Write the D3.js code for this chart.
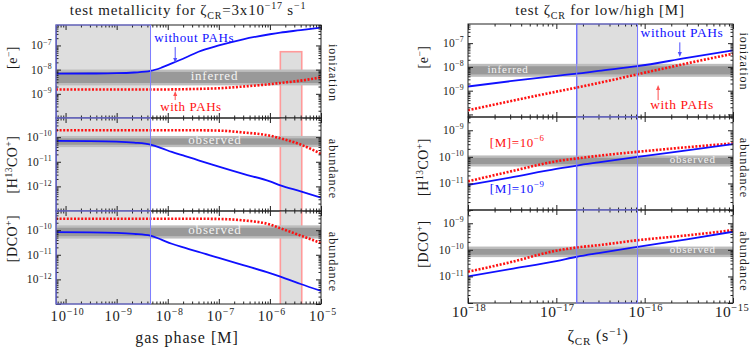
<!DOCTYPE html>
<meta charset="utf-8">
<style>
body { margin: 0; background: #fff; }
svg text { font-family: "Liberation Serif", "DejaVu Serif", serif; fill: #1a1a1a; }
</style>
<svg id="chart" width="751" height="349"></svg>
<script src="https://cdn.jsdelivr.net/npm/d3@7/dist/d3.min.js"></script>
<script>

// ---- left: test metallicity, x = gas phase [M] ----
var gasPhase   = [6.5e-11, 3e-10, 1e-9, 2.2e-9, 4.6e-9, 7.5e-9, 1.2e-8, 2.2e-8, 4e-8, 1e-7, 3e-7, 1e-6, 1.6e-6, 4e-6, 1e-5];
var elecNoPah  = [6.8e-9, 6.9e-9, 7.1e-9, 7.6e-9, 8.8e-9, 1.2e-8, 1.8e-8, 3.1e-8, 5.5e-8, 1.0e-7, 1.8e-7, 2.9e-7, 3.4e-7, 4.3e-7, 5.5e-7];
var elecPah    = [1.5e-9, 1.5e-9, 1.5e-9, 1.5e-9, 1.5e-9, 1.51e-9, 1.52e-9, 1.55e-9, 1.6e-9, 1.7e-9, 2.0e-9, 2.5e-9, 2.8e-9, 3.5e-9, 4.8e-9];
var hcoNoPah   = [7e-11, 6.9e-11, 6.6e-11, 6e-11, 5e-11, 3.6e-11, 2.5e-11, 1.7e-11, 1.15e-11, 6.3e-12, 3.2e-12, 1.6e-12, 1.1e-12, 6.3e-13, 3.5e-13];
var hcoPah     = [1.9e-10, 1.9e-10, 1.9e-10, 1.9e-10, 1.9e-10, 1.9e-10, 1.9e-10, 1.9e-10, 1.9e-10, 1.85e-10, 1.55e-10, 1.15e-10, 9e-11, 5e-11, 2.1e-11];
var dcoNoPah   = [8.3e-11, 8.2e-11, 7.8e-11, 7.1e-11, 6e-11, 4.1e-11, 2.8e-11, 1.9e-11, 1.3e-11, 7.5e-12, 3.8e-12, 1.8e-12, 1.3e-12, 6.5e-13, 3.4e-13];
var dcoPah     = [2.9e-10, 2.9e-10, 2.9e-10, 2.9e-10, 2.9e-10, 2.9e-10, 2.9e-10, 2.9e-10, 2.9e-10, 2.85e-10, 2.5e-10, 1.7e-10, 1.2e-10, 6e-11, 3e-11];

// ---- right: test zeta_CR for low/high [M] ----
var zetaCR     = [1e-18, 3e-18, 1e-17, 1.7e-17, 3e-17, 8.3e-17, 3e-16, 1e-15];
var elecNoPahZ = [1.5e-9, 2.5e-9, 4.2e-9, 5.2e-9, 6.8e-9, 1.07e-8, 2.4e-8, 5e-8];
var elecPahZ   = [1.5e-10, 3.6e-10, 9.1e-10, 1.35e-9, 2.1e-9, 4.9e-9, 1.4e-8, 3.6e-8];
var hcoLowM    = [8.7e-12, 1.66e-11, 3.5e-11, 4.7e-11, 6.2e-11, 1e-10, 1.75e-10, 3e-10];
var hcoHighM   = [1.2e-11, 2.8e-11, 6.8e-11, 8.7e-11, 1.1e-10, 1.55e-10, 2.3e-10, 3.2e-10];
var dcoLowM    = [1e-11, 1.9e-11, 3.8e-11, 5.5e-11, 7.6e-11, 1.3e-10, 2.5e-10, 4.8e-10];
var dcoHighM   = [1.5e-11, 3.4e-11, 9.3e-11, 1.23e-10, 1.5e-10, 2.3e-10, 3.5e-10, 5.5e-10];

// observed / inferred ranges
var elecInferredL = [2.5e-9, 9e-9];
var hcoObservedL  = [4.4e-11, 1e-10];
var dcoObservedL  = [5.1e-11, 1.4e-10];
var elecInferredR = [4.3e-9, 1.2e-8];
var hcoObservedR  = [4.8e-11, 1.02e-10];
var dcoObservedR  = [5.9e-11, 1.2e-10];

// shaded ranges
var lowMetalRange = [6.5e-11, 4.6e-9];
var metalBox      = [1.6e-6, 4.2e-6];
var metalBoxTop   = 5.5e-8;
var zetaRange     = [1.7e-17, 8.3e-17];

// axes
var gasDomain   = [6.5e-11, 1e-5];
var zetaDomain  = [1e-18, 1e-15];
var gasTickExp  = [-10, -9, -8, -7, -6, -5];
var zetaTickExp = [-18, -17, -16, -15];
var yDomainsL = [[1e-10, 7e-7], [1e-13, 6e-10], [1e-13, 6e-10]];
var yDomainsR = [[7.8e-11, 6.4e-7], [1e-12, 3.16e-9], [1e-12, 3.16e-9]];
var yTickExpL = [[-9, -8, -7], [-12, -11, -10], [-12, -11, -10]];
var yTickExpR = [[-9, -8, -7], [-11, -10, -9], [-11, -10, -9]];

var BLUE = "#1010ff", RED = "#ff1010", INK = "#222";
var svg = d3.select("#chart");

function logTicks(lo, hi) {
  var major = [], minor = [];
  for (var e = Math.floor(Math.log10(lo)) - 1; e <= Math.ceil(Math.log10(hi)); e++) {
    var p = Math.pow(10, e);
    if (p >= lo * 0.999 && p <= hi * 1.001) major.push(p);
    for (var m = 2; m < 10; m++) {
      if (m * p >= lo && m * p <= hi) minor.push(m * p);
    }
  }
  return {major: major, minor: minor};
}

function power(sel, exp, size, lift) {
  sel.append("tspan").text("10");
  sel.append("tspan").attr("dy", -(lift || 0.42) * size).attr("font-size", size * 0.68).text("\u2212" + Math.abs(exp));
}

function inwardTicks(g, x, y, x0, x1, top, bottom) {
  var xt = logTicks(x.domain()[0], x.domain()[1]),
      yt = logTicks(y.domain()[0], y.domain()[1]);
  [[xt.major, 5], [xt.minor, 2.5]].forEach(function(t) {
    g.append("g").attr("transform", "translate(0," + bottom + ")")
      .call(d3.axisBottom(x).tickValues(t[0]).tickSize(-t[1]).tickFormat(""));
    g.append("g").attr("transform", "translate(0," + top + ")")
      .call(d3.axisTop(x).tickValues(t[0]).tickSize(-t[1]).tickFormat(""));
  });
  [[yt.major, 5], [yt.minor, 2.5]].forEach(function(t) {
    g.append("g").attr("transform", "translate(" + x0 + ",0)")
      .call(d3.axisLeft(y).tickValues(t[0]).tickSize(-t[1]).tickFormat(""));
    g.append("g").attr("transform", "translate(" + x1 + ",0)")
      .call(d3.axisRight(y).tickValues(t[0]).tickSize(-t[1]).tickFormat(""));
  });
  g.selectAll(".domain").remove();
  g.selectAll(".tick line").attr("stroke", INK);
}

function drawPanel(p) {
  var g = svg.append("g");
  var x = p.x;
  var y = d3.scaleLog().domain(p.yDomain).range([p.bottom, p.top]);
  var id = "clip" + p.key;
  g.append("clipPath").attr("id", id).append("rect")
    .attr("x", p.x0).attr("y", p.top).attr("width", p.x1 - p.x0).attr("height", p.bottom - p.top);
  var body = g.append("g").attr("clip-path", "url(#" + id + ")");

  // shaded ranges
  (p.shades || []).forEach(function(s) {
    var ytop = s.top ? y(s.top) : p.top - 2;
    body.append("rect")
      .attr("x", x(s.range[0])).attr("y", ytop)
      .attr("width", x(s.range[1]) - x(s.range[0]))
      .attr("height", p.bottom + 2 - ytop)
      .attr("fill", "#dedede")
      .attr("stroke", s.stroke).attr("stroke-width", s.width);
  });

  // observed band
  body.append("rect")
    .attr("x", p.x0 - 2).attr("y", y(p.band[1]))
    .attr("width", p.x1 - p.x0 + 4).attr("height", y(p.band[0]) - y(p.band[1]))
    .attr("fill", "#999").attr("stroke", "#bdbdbd").attr("stroke-width", 2.4);

  var line = d3.line().curve(d3.curveMonotoneX)
    .x(function(d) { return x(d[0]); })
    .y(function(d) { return y(d[1]); });

  body.append("path").datum(d3.zip(p.xs, p.red))
    .attr("d", line).attr("fill", "none")
    .attr("stroke", RED).attr("stroke-width", 2.6).attr("stroke-dasharray", "2,1.6");
  body.append("path").datum(d3.zip(p.xs, p.blue))
    .attr("d", line).attr("fill", "none")
    .attr("stroke", BLUE).attr("stroke-width", 1.8);

  inwardTicks(g, x, y, p.x0, p.x1, p.top, p.bottom);
  g.append("rect")
    .attr("x", p.x0).attr("y", p.top).attr("width", p.x1 - p.x0).attr("height", p.bottom - p.top)
    .attr("fill", "none").attr("stroke", INK).attr("stroke-width", 1);

  // blue edges of the shaded range sit on top of the frame
  (p.shades || []).forEach(function(s) {
    if (s.stroke !== BLUE) return;
    g.append("rect")
      .attr("x", x(s.range[0])).attr("y", p.top)
      .attr("width", x(s.range[1]) - x(s.range[0])).attr("height", p.bottom - p.top)
      .attr("fill", "none").attr("stroke", "#7f7fff").attr("stroke-width", 1);
  });

  // y tick labels
  p.yTicks.forEach(function(e) {
    g.append("text")
      .attr("x", p.x0 - 4).attr("y", y(Math.pow(10, e)) + 4)
      .attr("text-anchor", "end").attr("font-size", p.tickFont).attr("letter-spacing", 0.3)
      .call(power, e, p.tickFont);
  });

  // band label
  g.append("text")
    .attr("x", x(p.bandText[0])).attr("y", y(p.bandText[1]))
    .attr("text-anchor", "middle").attr("font-size", p.bandFont).attr("letter-spacing", 0.8)
    .style("fill", "#f4f4f4")
    .text(p.bandText[2]);

  // species label on left, process label on right
  g.append("text")
    .attr("transform", "translate(" + p.ylabX + "," + ((p.top + p.bottom) / 2 + p.ylabDy) + ") rotate(-90)")
    .attr("text-anchor", "middle").attr("font-size", 14).attr("letter-spacing", 0.5)
    .call(p.ylab);
  g.append("text")
    .attr("transform", "translate(" + p.sideX + "," + ((p.top + p.bottom) / 2 + p.sideDy) + ") rotate(90)")
    .attr("text-anchor", "middle").attr("font-size", 12).attr("letter-spacing", 1)
    .text(p.side);

  p.y = y;
  return p;
}

function bracket(inner) {
  return function(t) {
    t.append("tspan").text("[");
    inner.forEach(function(s) {
      if (s.sup) t.append("tspan").attr("dy", -5).attr("font-size", 9.5).text(s.sup);
      else t.append("tspan").attr("dy", s.back ? 5 : 0).text(s.t);
    });
    t.append("tspan").attr("dy", 5).text("]");
  };
}
var labE   = bracket([{t: "e"}, {sup: "\u2212"}]);
var labHCO = bracket([{t: "H"}, {sup: "13"}, {t: "CO", back: true}, {sup: "+"}]);
var labDCO = bracket([{t: "DCO"}, {sup: "+"}]);

// ---------- left block ----------
var xL = d3.scaleLog().domain(gasDomain).range([56, 321]);
var topsL = [25, 118, 211, 304];
var seriesL = [[elecPah, elecNoPah], [hcoPah, hcoNoPah], [dcoPah, dcoNoPah]];
var bandsL = [elecInferredL, hcoObservedL, dcoObservedL];
var bandTextL = [[8.2e-8, 3.6e-9, "inferred"], [8.4e-8, 5.5e-11, "observed"], [8.4e-8, 7.1e-11, "observed"]];
var ylabsL = [labE, labHCO, labDCO], ylabDyL = [-14, 0, -19];
var sideL = ["ionization", "abundance", "abundance"], sideDyL = [1.5, 4.5, 4.5];

var panelsL = [0, 1, 2].map(function(i) {
  return drawPanel({
    key: "L" + i, x: xL, x0: 56, x1: 321, top: topsL[i], bottom: topsL[i + 1],
    yDomain: yDomainsL[i], yTicks: yTickExpL[i], tickFont: 11.5,
    xs: gasPhase, red: seriesL[i][0], blue: seriesL[i][1],
    band: bandsL[i], bandText: bandTextL[i], bandFont: 13,
    shades: [
      {range: lowMetalRange, stroke: BLUE, width: 1},
      {range: metalBox, top: i === 0 ? metalBoxTop : null, stroke: "#ff9a9a", width: 1.6}
    ],
    ylab: ylabsL[i], ylabX: 17, ylabDy: ylabDyL[i],
    side: sideL[i], sideX: 329, sideDy: sideDyL[i]
  });
});

// ---------- right block ----------
var xR = d3.scaleLog().domain(zetaDomain).range([468, 733]);
var topsR = [24, 117, 210, 303];
var seriesR = [[elecPahZ, elecNoPahZ], [hcoHighM, hcoLowM], [dcoHighM, dcoLowM]];
var bandsR = [elecInferredR, hcoObservedR, dcoObservedR];
var bandTextR = [[2.84e-18, 5.7e-9, "inferred"], [3.5e-16, 5.7e-11, "observed"], [3.5e-16, 7.4e-11, "observed"]];
var ylabsR = [labE, labHCO, labDCO], ylabDyR = [-13.5, 3.5, -12.5];
var sideR = ["ionization", "abundance", "abundance"], sideDyR = [-9, 4.5, 5];

var panelsR = [0, 1, 2].map(function(i) {
  return drawPanel({
    key: "R" + i, x: xR, x0: 468, x1: 733, top: topsR[i], bottom: topsR[i + 1],
    yDomain: yDomainsR[i], yTicks: yTickExpR[i], tickFont: 11.5,
    xs: zetaCR, red: seriesR[i][0], blue: seriesR[i][1],
    band: bandsR[i], bandText: bandTextR[i], bandFont: 11,
    shades: [{range: zetaRange, stroke: BLUE, width: 1}],
    ylab: ylabsR[i], ylabX: 428, ylabDy: ylabDyR[i],
    side: sideR[i], sideX: 740, sideDy: sideDyR[i]
  });
});

// x tick labels
gasTickExp.forEach(function(e) {
  svg.append("text").attr("x", xL(Math.pow(10, e)) + 2).attr("y", 321)
    .attr("text-anchor", "middle").attr("font-size", 14.5).attr("letter-spacing", 0.8).call(power, e, 14.5);
});
zetaTickExp.forEach(function(e) {
  svg.append("text").attr("x", xR(Math.pow(10, e)) + (e === -15 ? -1 : 1)).attr("y", 317)
    .attr("text-anchor", "middle").attr("font-size", 15.5).attr("letter-spacing", 0.5).call(power, e, 15.5, 0.36);
});

// axis titles
svg.append("text").attr("x", 187).attr("y", 343).attr("text-anchor", "middle")
  .attr("font-size", 16).attr("letter-spacing", 1).text("gas phase [M]");
var zt = svg.append("text").attr("x", 598).attr("y", 341).attr("text-anchor", "middle")
  .attr("font-size", 16).attr("letter-spacing", 0.8);
zt.append("tspan").text("\u03b6");
zt.append("tspan").attr("dy", 4).attr("font-size", 11).text("CR");
zt.append("tspan").attr("dy", -4).text(" (s");
zt.append("tspan").attr("dy", -6).attr("font-size", 11).text("\u22121");
zt.append("tspan").attr("dy", 6).text(")");

// titles
var t1 = svg.append("text").attr("x", 188).attr("y", 15).attr("text-anchor", "middle")
  .attr("font-size", 15).attr("letter-spacing", 0.8);
t1.append("tspan").text("test metallicity for \u03b6");
t1.append("tspan").attr("dy", 4).attr("font-size", 10).text("CR");
t1.append("tspan").attr("dy", -4).text("=3x10");
t1.append("tspan").attr("dy", -6).attr("font-size", 10).text("\u221217");
t1.append("tspan").attr("dy", 6).text(" s");
t1.append("tspan").attr("dy", -6).attr("font-size", 10).text("\u22121");

var t2 = svg.append("text").attr("x", 600).attr("y", 15).attr("text-anchor", "middle")
  .attr("font-size", 15).attr("letter-spacing", 0.8);
t2.append("tspan").text("test \u03b6");
t2.append("tspan").attr("dy", 4).attr("font-size", 10).text("CR");
t2.append("tspan").attr("dy", -4).text(" for low/high [M]");

// annotations
function note(g, x, y, tx, ty, text, color, size) {
  g.append("text").attr("x", x(tx)).attr("y", y(ty)).attr("text-anchor", "middle")
    .attr("font-size", size).attr("letter-spacing", 0.6).style("fill", color).call(text);
}
function arrow(x, y, ax, y0, y1, color) {
  var px = x(ax), pa = y(y0), pb = y(y1), dir = pb > pa ? 1 : -1;
  svg.append("line").attr("x1", px).attr("x2", px).attr("y1", pa).attr("y2", pb - dir * 3)
    .attr("stroke", color).attr("stroke-width", 1);
  svg.append("path")
    .attr("d", "M" + (px - 2) + "," + (pb - dir * 5) + "L" + (px + 2) + "," + (pb - dir * 5) + "L" + px + "," + pb + "Z")
    .attr("fill", color);
}
function plain(s) { return function(t) { t.text(s); }; }
function mLabel(e) { return function(t) { t.append("tspan").text("[M]="); power(t, e, 13); }; }

var yL0 = panelsL[0].y;
note(svg, xL, yL0, 3.3e-8, 1.4e-7, plain("without PAHs"), BLUE, 13);
arrow(xL, yL0, 1.4e-8, 8.6e-8, 1.9e-8, "#5050ff");
note(svg, xL, yL0, 2.85e-8, 2e-10, plain("with PAHs"), RED, 13);
arrow(xL, yL0, 1.4e-8, 5.5e-10, 1.3e-9, "#ff5050");

var yR0 = panelsR[0].y, yR1 = panelsR[1].y;
note(svg, xR, yR0, 2.65e-16, 1.9e-7, plain("without PAHs"), BLUE, 13.5);
arrow(xR, yR0, 2.5e-16, 1.08e-7, 2.6e-8, "#5050ff");
note(svg, xR, yR0, 2.65e-16, 1.65e-10, plain("with PAHs"), RED, 13.5);
arrow(xR, yR0, 1.42e-16, 4e-10, 1.73e-9, "#ff5050");
note(svg, xR, yR1, 3.6e-18, 2.4e-10, mLabel(-6), RED, 13);
note(svg, xR, yR1, 3.6e-18, 4.5e-12, mLabel(-9), BLUE, 13);

</script>
